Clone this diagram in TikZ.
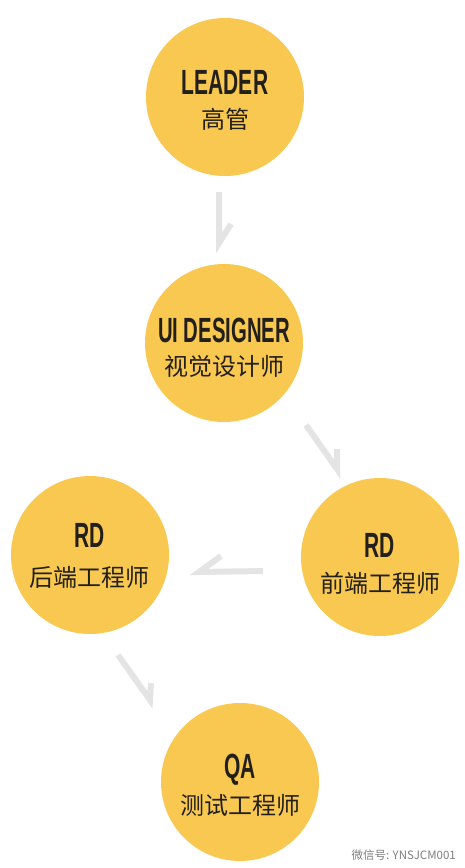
\documentclass[tikz,border=0pt]{standalone}
\usepackage{fontspec}
\newfontfamily\titlefont{Liberation Sans}[BoldFont={Liberation Sans Bold}]
\newfontfamily\cjk{Noto Sans CJK SC}
\definecolor{disc}{HTML}{F8C850}
\definecolor{arrowgray}{HTML}{E4E4E4}
\definecolor{ink}{HTML}{231F1A}
\begin{document}
\begin{tikzpicture}[x=1pt,y=-1pt,
  disk/.style={circle,fill=disc,minimum size=158pt,inner sep=0pt},
  ttl/.style={text=ink,font=\titlefont\bfseries\fontsize{35}{35}\selectfont,inner sep=0pt},
  sub/.style={text=ink,font=\cjk\fontsize{24}{24}\selectfont,inner sep=0pt},
  flow/.style={draw=arrowgray,line width=6pt,line cap=butt,line join=miter,miter limit=20}]
\useasboundingbox (0,0) rectangle (465,868);
\fill[white] (0,0) rectangle (465,868);
\node[disk] (leader) at (225,97) {};
\node[disk] (ui) at (224,343) {};
\node[disk] (rdf) at (380,557) {};
\node[disk] (rdb) at (90,555) {};
\node[disk] (qa) at (240,782) {};
\node[ttl] (t1) at (225,82) {\scalebox{0.6}[1]{LEADER}};
\node[sub] (s1) at (225,119) {高管};
\node[ttl] (t2) at (224,330) {\scalebox{0.58}[1]{UI DESIGNER}};
\node[sub] (s2) at (224,366) {视觉设计师};
\node[ttl] (t3) at (380,545) {\scalebox{0.6}[1]{RD}};
\node[sub] (s3) at (380,583) {前端工程师};
\node[ttl] (t4) at (90,535) {\scalebox{0.6}[1]{RD}};
\node[sub] (s4) at (90,577) {后端工程师};
\node[ttl] (t5) at (240,770) {\scalebox{0.6}[1]{QA}};
\node[sub] (s5) at (240,805) {测试工程师};
% arrows with half heads
\coordinate (a1s) at (219,192); \coordinate (a1e) at (219,243); \coordinate (a1b) at (231,224);
\draw[flow] (a1s) -- (a1e) -- (a1b);
\coordinate (a2s) at (306,425); \coordinate (a2e) at (337,469); \coordinate (a2b) at (337,449);
\draw[flow] (a2s) -- (a2e) -- (a2b);
\coordinate (a3s) at (263,571); \coordinate (a3e) at (199,572); \coordinate (a3b) at (221,556);
\draw[flow] (a3s) -- (a3e) -- (a3b);
\coordinate (a4s) at (118,655); \coordinate (a4e) at (150,700); \coordinate (a4b) at (151,683);
\draw[flow] (a4s) -- (a4e) -- (a4b);
\node[text=gray,font=\cjk\fontsize{11.5}{11.5}\selectfont,anchor=east,inner sep=0pt] (wm) at (456,855) {微信号: YNSJCM001};
\end{tikzpicture}
\end{document}
